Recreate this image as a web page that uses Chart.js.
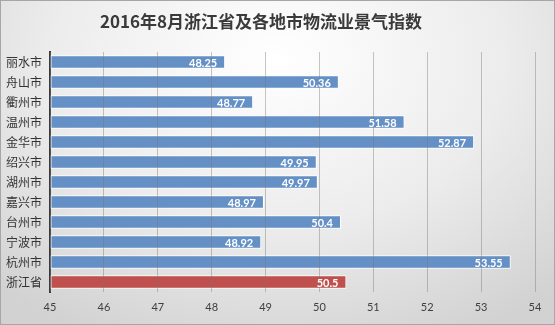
<!DOCTYPE html>
<html>
<head>
<meta charset="utf-8">
<script src="https://cdn.jsdelivr.net/npm/chart.js@4"></script>
<style>
	html, body { margin: 0; padding: 0; }
	#box {
		width: 555px; height: 325px; box-sizing: border-box;
		border: 1px solid #a6a6a6;
		background: radial-gradient(ellipse 75% 95% at 50% 18%, #ffffff 0%, #ececec 55%, #d2d2d2 100%);
	}
</style>
</head>
<body>
<div id="box"><canvas id="grafica" width="553" height="323"></canvas></div>
<script>
const titulo = "2016年8月浙江省及各地市物流业景气指数";
const ciudades = ["丽水市", "舟山市", "衢州市", "温州市", "金华市", "绍兴市", "湖州市", "嘉兴市", "台州市", "宁波市", "杭州市", "浙江省"];
const indices = [48.25, 50.36, 48.77, 51.58, 52.87, 49.95, 49.97, 48.97, 50.4, 48.92, 53.55, 50.5];
const minimo = 45;
const maximo = 54;

const fuenteNum = "Lato, 'Noto Sans CJK SC', sans-serif";
const fuenteCJK = "'Noto Sans CJK SC', sans-serif";

// titulo y etiquetas dibujados a mano
const textos = {
	id: "textos",
	afterDraw(chart) {
		const c = chart.ctx;
		c.save();
		c.fillStyle = "#3a3a3a";
		c.font = "bold 17px " + fuenteCJK;
		c.textAlign = "center";
		c.textBaseline = "middle";
		c.fillText(titulo, 260, 21);

		const meta = chart.getDatasetMeta(0);
		c.fillStyle = "#ffffff";
		c.font = "bold 11px " + fuenteNum;
		c.textAlign = "right";
		meta.data.forEach((bar, i) => {
			c.fillText(String(indices[i]), bar.x - 8, bar.y + 1);
		});
		c.restore();
	},
};

new Chart(document.getElementById("grafica"), {
	type: "bar",
	data: {
		labels: ciudades,
		datasets: [
			{
				data: indices,
				base: minimo,
				backgroundColor: ciudades.map((n) => (n === "浙江省" ? "#c0504d" : "#6590c6")),
				borderColor: "#ffffff",
				borderWidth: 1,
				borderSkipped: false,
				categoryPercentage: 1,
				barPercentage: 0.68,
			},
		],
	},
	options: {
		indexAxis: "y",
		responsive: false,
		animation: false,
		layout: { padding: { left: 0, right: 19, top: 51, bottom: 0 } },
		scales: {
			x: {
				min: minimo,
				max: maximo,
				afterFit(s) { s.height = 32; },
				ticks: { stepSize: 1, color: "#404040", font: { family: fuenteNum, size: 11 }, padding: 9 },
				grid: { color: "rgba(120,120,120,0.42)", drawTicks: false, z: 1 },
				border: { display: false },
			},
			y: {
				afterFit(s) { s.width = 49; },
				ticks: { color: "#333333", font: { family: fuenteCJK, size: 12 }, padding: 8 },
				grid: { display: false, drawTicks: false },
				border: { display: true, color: "#3a3a3a", width: 2 },
			},
		},
		plugins: {
			legend: { display: false },
			tooltip: { enabled: false },
			title: { display: false },
		},
	},
	plugins: [textos],
});
</script>
</body>
</html>
